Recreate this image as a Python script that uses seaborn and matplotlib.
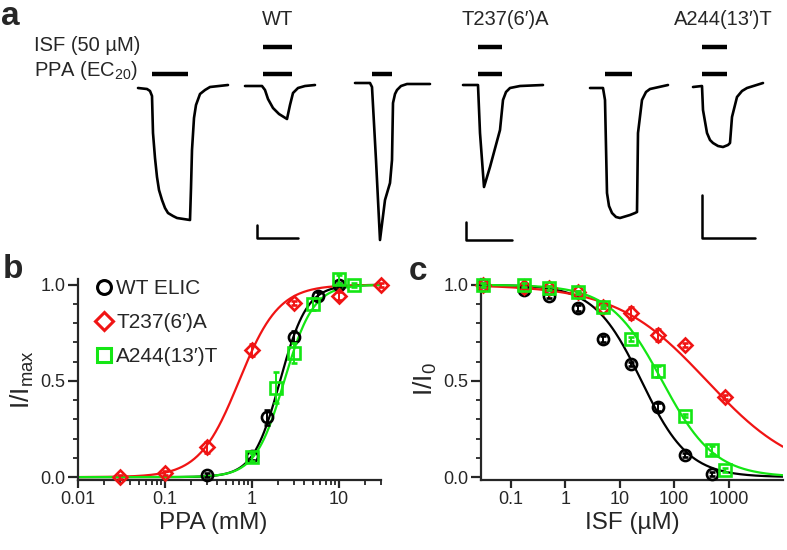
"""ELIC currents, PPA concentration-response and ISF inhibition"""

import numpy as np
import seaborn as sns
import matplotlib.pyplot as plt

# ---------------- data ----------------
names = ["WT ELIC", "T237(6′)A", "A244(13′)T"]
colors = ["black", "#f01414", "#14e614"]
markers = ["o", "D", "s"]

# panel b: PPA (mM) vs I/Imax
ppa_wt_x = [0.3, 1, 1.5, 3, 5.8, 10]
ppa_wt_y = [0.01, 0.11, 0.31, 0.73, 0.94, 1.0]
ppa_wt_err = [0.01, 0.02, 0.04, 0.03, 0.02, 0.01]
ppa_t237_x = [0.03, 0.1, 0.3, 1, 3, 10, 30]
ppa_t237_y = [0.0, 0.02, 0.155, 0.66, 0.905, 0.94, 1.0]
ppa_t237_err = [0.01, 0.01, 0.03, 0.03, 0.01, 0.02, 0.01]
ppa_a244_x = [1, 1.9, 3, 5, 10, 15]
ppa_a244_y = [0.105, 0.465, 0.645, 0.90, 1.03, 1.0]
ppa_a244_err = [0.02, 0.08, 0.05, 0.03, 0.02, 0.01]
# Hill fits
ppa_ec50 = [2.1, 0.71, 2.35]
ppa_hill = [2.8, 1.9, 2.6]

# panel c: ISF (uM) vs I/I0
isf_wt_x = [0.03, 0.17, 0.5, 1.7, 5, 16, 50, 160, 500]
isf_wt_y = [1.0, 0.974, 0.943, 0.878, 0.717, 0.59, 0.365, 0.113, 0.018]
isf_wt_err = [0.01, 0.01, 0.01, 0.015, 0.015, 0.01, 0.02, 0.01, 0.01]
isf_t237_x = [0.03, 0.17, 0.5, 1.7, 5, 16, 50, 160, 850]
isf_t237_y = [1.0, 0.99, 0.985, 0.96, 0.887, 0.852, 0.74, 0.687, 0.417]
isf_t237_err = [0.01, 0.01, 0.01, 0.01, 0.01, 0.03, 0.03, 0.01, 0.01]
isf_a244_x = [0.03, 0.17, 0.5, 1.7, 5, 16, 50, 160, 500, 850]
isf_a244_y = [1.0, 1.0, 0.985, 0.96, 0.887, 0.717, 0.55, 0.32, 0.14, 0.035]
isf_a244_err = [0.01, 0.01, 0.01, 0.01, 0.01, 0.01, 0.03, 0.01, 0.02, 0.01]
isf_ic50 = [25, 400, 60]
isf_hill = [1.0, 0.52, 0.9]

# panel a: current traces (time, current), arbitrary units
trace_labels = ["WT", "T237(6′)A", "A244(13′)T"]
tr1_t = [0, 9, 12, 14, 15, 17, 19, 21, 24, 27, 30, 35, 39, 52, 53, 54, 56, 58, 62, 67, 72, 90]
tr1_i = [0, -1, -3, -8, -45, -70, -89, -102, -112, -120, -125, -128, -130, -132, -100,
         -62, -30, -17, -6, -2, 1, 3]
tr2_t = [0, 17, 20, 23, 28, 34, 42, 45, 48, 53, 60, 70]
tr2_i = [0, 0, -4, -13, -22, -28, -33, -19, -7, -2, 0, 1]
tr3_t = [0, 15, 17, 21, 25, 30, 35, 37, 38, 40, 42, 46, 52, 75]
tr3_i = [0, 0, -4, -77, -157, -117, -100, -77, -20, -11, -7, -3, -1, -1]
tr4_t = [0, 15, 17, 21, 27, 37, 39, 40, 43, 47, 57, 80]
tr4_i = [0, 0, -48, -102, -82, -45, -25, -15, -7, -3, -1, 0]
tr5_t = [0, 13, 15, 17, 19, 22, 26, 30, 40, 45, 47, 48, 52, 56, 60, 78]
tr5_i = [0, 0, -12, -105, -118, -125, -129, -130, -127, -125, -124, -45, -12, -4, -1, 3]
tr6_t = [0, 9, 10, 14, 17, 20, 25, 30, 35, 37, 39, 44, 49, 54, 70]
tr6_i = [0, 1, -23, -46, -53, -56, -59, -60, -58, -56, -30, -10, -4, -1, 4]
# drug application windows (start, end) per trace
ppa_on = [(14, 50), (18, 47), (17, 37), (15, 39), (15, 42), (9, 34)]
isf_on = [None, (18, 47), None, (15, 39), None, (9, 34)]
# scale bars (width, height) after each pair
scale_w = [41, 46, 53]
scale_h = [13, 18, 43]

# ---------------- style ----------------
sns.set_theme(style="ticks")
plt.rcParams["font.family"] = ["Liberation Sans", "DejaVu Sans"]
plt.rcParams["mathtext.fontset"] = "custom"
plt.rcParams["mathtext.rm"] = "Liberation Sans"
plt.rcParams["mathtext.it"] = "Liberation Sans:italic"
plt.rcParams["axes.linewidth"] = 1.6

fig = plt.figure(figsize=(7.87, 5.5), dpi=100)

# ---------------- panel a ----------------
ax_a = fig.add_axes([0, 300 / 550, 1, 250 / 550])
ax_a.set_xlim(0, 787)
ax_a.set_ylim(250, 0)
ax_a.axis("off")

traces = [(tr1_t, tr1_i), (tr2_t, tr2_i), (tr3_t, tr3_i),
          (tr4_t, tr4_i), (tr5_t, tr5_i), (tr6_t, tr6_i)]
x0s = [138, 245, 355, 463, 590, 693]
bases = [88, 86, 83, 85, 88, 87]
for k, (t, i) in enumerate(traces):
    xs = np.array(t) + x0s[k]
    ys = bases[k] - np.array(i)
    sns.lineplot(x=xs, y=ys, ax=ax_a, sort=False, estimator=None,
                 color="black", lw=1.9)
    s, e = ppa_on[k]
    ax_a.plot([x0s[k] + s, x0s[k] + e], [74, 74], color="black", lw=3.2,
              solid_capstyle="butt")
    if isf_on[k] is not None:
        s, e = isf_on[k]
        ax_a.plot([x0s[k] + s, x0s[k] + e], [47, 47], color="black", lw=3.2,
                  solid_capstyle="butt")

# scale bars
sb_x = [257, 466, 702]
sb_y = [238, 240, 238]
for k in range(3):
    ax_a.plot([sb_x[k], sb_x[k], sb_x[k] + scale_w[k]],
              [sb_y[k] - scale_h[k], sb_y[k], sb_y[k]], color="black", lw=1.8)

for lab, xc in zip(trace_labels, [278, 505, 723]):
    ax_a.text(xc, 25, lab, ha="center", va="baseline", fontsize=14.5)
ax_a.text(140, 51, "ISF (50 µM)", ha="right", va="baseline", fontsize=14.5)
ax_a.text(138, 76, "PPA (EC$_{20}$)", ha="right", va="baseline", fontsize=14.5)

fig.text(1 / 787, 1 - 25 / 550, "a", fontsize=24, fontweight="bold", va="baseline")
fig.text(3 / 787, 1 - 278 / 550, "b", fontsize=24, fontweight="bold", va="baseline")
fig.text(409 / 787, 1 - 280 / 550, "c", fontsize=24, fontweight="bold", va="baseline")


def style_axis(ax):
    sns.despine(ax=ax)
    ax.set_ylim(-0.015, 1.03)
    ax.set_yticks([0, 0.5, 1.0], labels=["0.0", "0.5", "1.0"])
    ax.set_yticks(np.arange(0.1, 1.0, 0.1), minor=True)
    ax.tick_params(axis="both", which="major", labelsize=13, width=1.6,
                   length=6, direction="out", pad=2)
    ax.tick_params(axis="y", which="major", length=7)
    ax.tick_params(axis="both", which="minor", width=1.3, length=3.5,
                   direction="out")


def hill_up(x, ec50, n):
    return 1 / (1 + (ec50 / x) ** n)


def hill_down(x, ic50, n):
    return 1 / (1 + (x / ic50) ** n)


# ---------------- panel b ----------------
ax_b = fig.add_axes([78 / 787, 70 / 550, 302.5 / 787, 201 / 550])
ax_b.set_xscale("log")
ax_b.set_xlim(0.01, 30)
xs = np.logspace(-2, np.log10(30), 300)
ppa_sets = [(ppa_wt_x, ppa_wt_y, ppa_wt_err),
            (ppa_t237_x, ppa_t237_y, ppa_t237_err),
            (ppa_a244_x, ppa_a244_y, ppa_a244_err)]
for k in range(3):
    sns.lineplot(x=xs, y=hill_up(xs, ppa_ec50[k], ppa_hill[k]), ax=ax_b,
                 color=colors[k], lw=1.6, zorder=2)
for k, (x, y, err) in enumerate(ppa_sets):
    ax_b.errorbar(x, y, yerr=err, fmt=markers[k], color=colors[k],
                  mfc="none", mec=colors[k], ms=8 if k != 1 else 7, mew=1.9,
                  elinewidth=1.4, capsize=2.5, zorder=3 + k, clip_on=False)
style_axis(ax_b)
ax_b.set_xticks([0.01, 0.1, 1, 10], labels=["0.01", "0.1", "1", "10"])
ax_b.set_xlabel("PPA (mM)", fontsize=17.5, labelpad=3, x=0.447)
ax_b.set_ylabel("I/I$_{\\mathrm{max}}$", fontsize=19, labelpad=3)
handles = [plt.Line2D([], [], ls="none", marker=markers[k], mfc="none",
                      mec=colors[k], mew=2.2, ms=10 if k != 1 else 9)
           for k in range(3)]
ax_b.legend(handles, names, loc="upper left", bbox_to_anchor=(0.03, 1.04),
            frameon=False, fontsize=15, handlelength=0.8, handletextpad=0.2,
            labelspacing=0.72, borderaxespad=0)

# ---------------- panel c ----------------
ax_c = fig.add_axes([481 / 787, 70 / 550, 302 / 787, 201 / 550])
ax_c.set_xscale("log")
ax_c.set_xlim(0.028, 10000)
xs = np.logspace(np.log10(0.028), 4, 300)
isf_sets = [(isf_wt_x, isf_wt_y, isf_wt_err),
            (isf_t237_x, isf_t237_y, isf_t237_err),
            (isf_a244_x, isf_a244_y, isf_a244_err)]
for k in range(3):
    sns.lineplot(x=xs, y=hill_down(xs, isf_ic50[k], isf_hill[k]), ax=ax_c,
                 color=colors[k], lw=1.6, zorder=2)
for k, (x, y, err) in enumerate(isf_sets):
    ax_c.errorbar(x, y, yerr=err, fmt=markers[k], color=colors[k],
                  mfc="none", mec=colors[k], ms=8 if k != 1 else 7, mew=1.9,
                  elinewidth=1.4, capsize=2.5, zorder=3 + k, clip_on=False)
style_axis(ax_c)
ax_c.set_xticks([0.1, 1, 10, 100, 1000], labels=["0.1", "1", "10", "100", "1000"])
ax_c.set_xlabel("ISF (µM)", fontsize=17.5, labelpad=3)
ax_c.set_ylabel("I/I$_{\\mathrm{0}}$", fontsize=19, labelpad=3)

fig.savefig("out.png", dpi=100)
